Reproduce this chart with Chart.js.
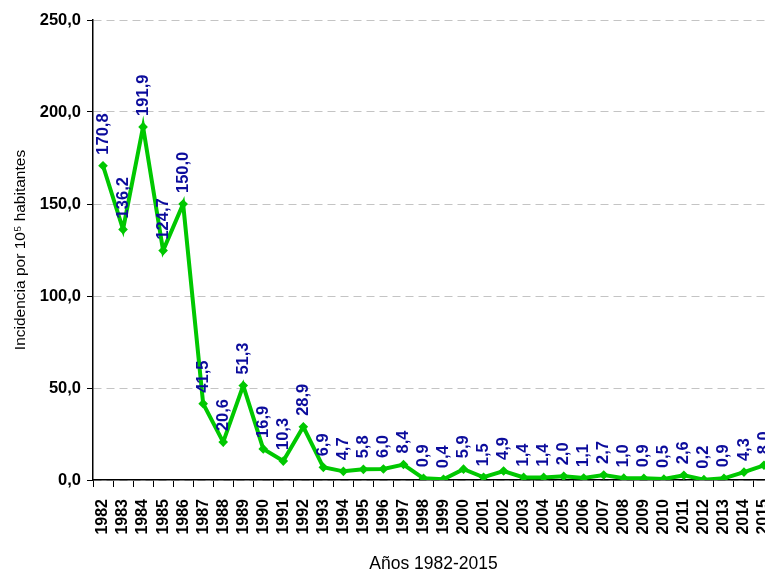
<!DOCTYPE html>
<html>
<head>
<meta charset="utf-8">
<script src="https://cdn.jsdelivr.net/npm/chart.js@4.4.1/dist/chart.umd.min.js"></script>
<style>
  html, body { margin: 0; padding: 0; background: #fff; overflow: hidden; }
  #wrap { width: 765px; height: 570px; overflow: hidden; }
</style>
</head>
<body>
<div id="wrap"><canvas id="myChart" width="782" height="570"></canvas></div>
<script>
// years and incidence per 10^5 inhabitants
const years = ['1982','1983','1984','1985','1986','1987','1988','1989','1990','1991','1992','1993',
  '1994','1995','1996','1997','1998','1999','2000','2001','2002','2003','2004','2005','2006',
  '2007','2008','2009','2010','2011','2012','2013','2014','2015'];
const incidencia = [170.8, 136.2, 191.9, 124.7, 150.0, 41.5, 20.6, 51.3, 16.9, 10.3, 28.9, 6.9,
  4.7, 5.8, 6.0, 8.4, 0.9, 0.4, 5.9, 1.5, 4.9, 1.4, 1.4, 2.0, 1.1,
  2.7, 1.0, 0.9, 0.5, 2.6, 0.2, 0.9, 4.3, 8.0];
const yTicks = [0, 50, 100, 150, 200, 250];

const fmt = v => v.toFixed(1).replace('.', ',');
const FONT = '"Liberation Sans", Arial, sans-serif';

// vertical value labels above each point
const valueLabels = {
  id: 'valueLabels',
  afterDatasetsDraw(chart) {
    const ctx = chart.ctx;
    const meta = chart.getDatasetMeta(0);
    ctx.save();
    ctx.font = 'bold 16.5px ' + FONT;
    ctx.fillStyle = '#0c0c9c';
    ctx.textAlign = 'left';
    ctx.textBaseline = 'middle';
    meta.data.forEach((pt, i) => {
      ctx.save();
      ctx.translate(pt.x, pt.y - 11);
      ctx.rotate(-Math.PI / 2);
      ctx.fillText(fmt(incidencia[i]), 0, 0);
      ctx.restore();
    });
    ctx.restore();
  }
};

var ctx = document.getElementById('myChart');
var myChart = new Chart(ctx, {
  type: 'line',
  data: {
    labels: years,
    datasets: [{
      data: incidencia,
      borderColor: '#00c800',
      backgroundColor: '#00c800',
      borderWidth: 4,
      pointRadius: 2,
      pointStyle: 'rectRot',
      tension: 0
    }]
  },
  plugins: [valueLabels],
  options: {
    responsive: false,
    animation: false,
    layout: { padding: { top: 20, right: 0, left: 0, bottom: 0 } },
    plugins: { legend: { display: false }, tooltip: { enabled: false } },
    scales: {
      x: {
        offset: true,
        afterFit: s => { s.height = 90; s.paddingRight = 0; s.paddingLeft = 0; },
        grid: { offset: true, drawOnChartArea: false, tickLength: 7, tickColor: '#000' },
        border: { color: '#000', width: 1.5 },
        ticks: {
          autoSkip: false, maxRotation: 90, minRotation: 90, padding: 12,
          color: '#000', font: { family: FONT, size: 16, weight: 'bold' }
        },
        title: {
          display: true, text: 'Años 1982-2015', color: '#000',
          font: { family: FONT, size: 17.5 }, padding: { top: 0, bottom: -5 }
        }
      },
      y: {
        min: 0, max: 250,
        afterFit: s => { s.width = 93; },
        afterBuildTicks: s => { s.ticks = yTicks.map(v => ({ value: v })); },
        grid: { color: '#c4c4c4', tickLength: 6, tickColor: '#000', lineWidth: 1 },
        border: { color: '#000', width: 1.5, dash: [8, 5] },
        ticks: {
          padding: 6, color: '#000',
          font: { family: FONT, size: 16.5, weight: 'bold' },
          callback: v => fmt(v)
        },
        title: {
          display: true, text: 'Incidencia por 10⁵ habitantes', color: '#000',
          font: { family: FONT, size: 15.5 }, padding: { top: 11, bottom: 0 }
        }
      }
    }
  }
});
</script>
</body>
</html>
